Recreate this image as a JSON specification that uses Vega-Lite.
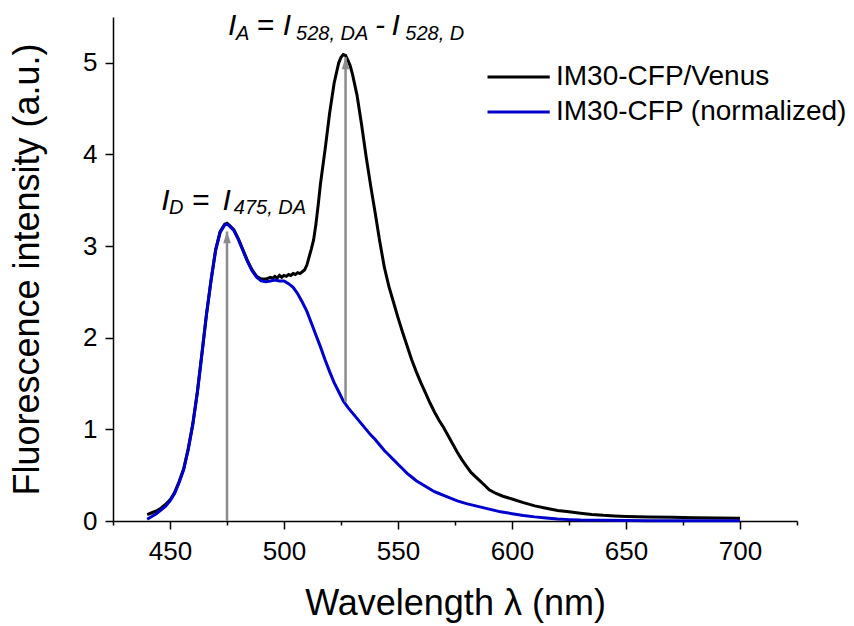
{
  "$schema": "https://vega.github.io/schema/vega-lite/v6.json",
  "autosize": "none",
  "width": 684,
  "height": 504,
  "padding": {"left": 113, "top": 17, "right": 57, "bottom": 105},
  "background": "white",
  "config": {
    "view": {"stroke": null},
    "font": "Liberation Sans",
    "axis": {
      "grid": false,
      "domainColor": "black",
      "domainWidth": 1.5,
      "tickColor": "black",
      "tickWidth": 1.5,
      "labelColor": "black",
      "labelFont": "Liberation Sans",
      "labelFontSize": 26,
      "labelOverlap": false,
      "labelFlush": false,
      "titleFont": "Liberation Sans",
      "titleFontSize": 36,
      "titleFontWeight": "normal",
      "titleColor": "black",
      "titleLimit": 0
    }
  },
  "datasets": {
    "spectra": [
      {"wavelength": 440, "intensity": 0.07, "series": "IM30-CFP/Venus"},
      {"wavelength": 442, "intensity": 0.09, "series": "IM30-CFP/Venus"},
      {"wavelength": 444, "intensity": 0.11, "series": "IM30-CFP/Venus"},
      {"wavelength": 446, "intensity": 0.14, "series": "IM30-CFP/Venus"},
      {"wavelength": 448, "intensity": 0.18, "series": "IM30-CFP/Venus"},
      {"wavelength": 450, "intensity": 0.23, "series": "IM30-CFP/Venus"},
      {"wavelength": 452, "intensity": 0.31, "series": "IM30-CFP/Venus"},
      {"wavelength": 454, "intensity": 0.43, "series": "IM30-CFP/Venus"},
      {"wavelength": 456, "intensity": 0.57, "series": "IM30-CFP/Venus"},
      {"wavelength": 458, "intensity": 0.79, "series": "IM30-CFP/Venus"},
      {"wavelength": 460, "intensity": 1.06, "series": "IM30-CFP/Venus"},
      {"wavelength": 462, "intensity": 1.41, "series": "IM30-CFP/Venus"},
      {"wavelength": 464, "intensity": 1.83, "series": "IM30-CFP/Venus"},
      {"wavelength": 466, "intensity": 2.26, "series": "IM30-CFP/Venus"},
      {"wavelength": 468, "intensity": 2.63, "series": "IM30-CFP/Venus"},
      {"wavelength": 470, "intensity": 2.96, "series": "IM30-CFP/Venus"},
      {"wavelength": 472, "intensity": 3.16, "series": "IM30-CFP/Venus"},
      {"wavelength": 474, "intensity": 3.24, "series": "IM30-CFP/Venus"},
      {"wavelength": 475, "intensity": 3.25, "series": "IM30-CFP/Venus"},
      {"wavelength": 476, "intensity": 3.23, "series": "IM30-CFP/Venus"},
      {"wavelength": 478, "intensity": 3.18, "series": "IM30-CFP/Venus"},
      {"wavelength": 480, "intensity": 3.08, "series": "IM30-CFP/Venus"},
      {"wavelength": 482, "intensity": 2.96, "series": "IM30-CFP/Venus"},
      {"wavelength": 484, "intensity": 2.84, "series": "IM30-CFP/Venus"},
      {"wavelength": 486, "intensity": 2.74, "series": "IM30-CFP/Venus"},
      {"wavelength": 488, "intensity": 2.67, "series": "IM30-CFP/Venus"},
      {"wavelength": 490, "intensity": 2.64, "series": "IM30-CFP/Venus"},
      {"wavelength": 492, "intensity": 2.64, "series": "IM30-CFP/Venus"},
      {"wavelength": 494, "intensity": 2.66, "series": "IM30-CFP/Venus"},
      {"wavelength": 495, "intensity": 2.65, "series": "IM30-CFP/Venus"},
      {"wavelength": 496, "intensity": 2.67, "series": "IM30-CFP/Venus"},
      {"wavelength": 497, "intensity": 2.65, "series": "IM30-CFP/Venus"},
      {"wavelength": 498, "intensity": 2.68, "series": "IM30-CFP/Venus"},
      {"wavelength": 499, "intensity": 2.66, "series": "IM30-CFP/Venus"},
      {"wavelength": 500, "intensity": 2.68, "series": "IM30-CFP/Venus"},
      {"wavelength": 501, "intensity": 2.67, "series": "IM30-CFP/Venus"},
      {"wavelength": 502, "intensity": 2.69, "series": "IM30-CFP/Venus"},
      {"wavelength": 503, "intensity": 2.68, "series": "IM30-CFP/Venus"},
      {"wavelength": 504, "intensity": 2.7, "series": "IM30-CFP/Venus"},
      {"wavelength": 505, "intensity": 2.69, "series": "IM30-CFP/Venus"},
      {"wavelength": 506, "intensity": 2.71, "series": "IM30-CFP/Venus"},
      {"wavelength": 507, "intensity": 2.7, "series": "IM30-CFP/Venus"},
      {"wavelength": 508, "intensity": 2.72, "series": "IM30-CFP/Venus"},
      {"wavelength": 509, "intensity": 2.74, "series": "IM30-CFP/Venus"},
      {"wavelength": 510, "intensity": 2.79, "series": "IM30-CFP/Venus"},
      {"wavelength": 511, "intensity": 2.88, "series": "IM30-CFP/Venus"},
      {"wavelength": 512, "intensity": 2.97, "series": "IM30-CFP/Venus"},
      {"wavelength": 513, "intensity": 3.07, "series": "IM30-CFP/Venus"},
      {"wavelength": 514, "intensity": 3.24, "series": "IM30-CFP/Venus"},
      {"wavelength": 515, "intensity": 3.45, "series": "IM30-CFP/Venus"},
      {"wavelength": 516, "intensity": 3.68, "series": "IM30-CFP/Venus"},
      {"wavelength": 518, "intensity": 4.05, "series": "IM30-CFP/Venus"},
      {"wavelength": 520, "intensity": 4.45, "series": "IM30-CFP/Venus"},
      {"wavelength": 522, "intensity": 4.78, "series": "IM30-CFP/Venus"},
      {"wavelength": 524, "intensity": 5.0, "series": "IM30-CFP/Venus"},
      {"wavelength": 525, "intensity": 5.06, "series": "IM30-CFP/Venus"},
      {"wavelength": 526, "intensity": 5.09, "series": "IM30-CFP/Venus"},
      {"wavelength": 527, "intensity": 5.08, "series": "IM30-CFP/Venus"},
      {"wavelength": 528, "intensity": 5.03, "series": "IM30-CFP/Venus"},
      {"wavelength": 529, "intensity": 4.97, "series": "IM30-CFP/Venus"},
      {"wavelength": 530, "intensity": 4.88, "series": "IM30-CFP/Venus"},
      {"wavelength": 532, "intensity": 4.65, "series": "IM30-CFP/Venus"},
      {"wavelength": 534, "intensity": 4.33, "series": "IM30-CFP/Venus"},
      {"wavelength": 536, "intensity": 3.98, "series": "IM30-CFP/Venus"},
      {"wavelength": 538, "intensity": 3.66, "series": "IM30-CFP/Venus"},
      {"wavelength": 540, "intensity": 3.36, "series": "IM30-CFP/Venus"},
      {"wavelength": 542, "intensity": 3.05, "series": "IM30-CFP/Venus"},
      {"wavelength": 544, "intensity": 2.77, "series": "IM30-CFP/Venus"},
      {"wavelength": 546, "intensity": 2.56, "series": "IM30-CFP/Venus"},
      {"wavelength": 548, "intensity": 2.39, "series": "IM30-CFP/Venus"},
      {"wavelength": 550, "intensity": 2.22, "series": "IM30-CFP/Venus"},
      {"wavelength": 552, "intensity": 2.06, "series": "IM30-CFP/Venus"},
      {"wavelength": 554, "intensity": 1.91, "series": "IM30-CFP/Venus"},
      {"wavelength": 556, "intensity": 1.76, "series": "IM30-CFP/Venus"},
      {"wavelength": 558, "intensity": 1.63, "series": "IM30-CFP/Venus"},
      {"wavelength": 560, "intensity": 1.51, "series": "IM30-CFP/Venus"},
      {"wavelength": 562, "intensity": 1.4, "series": "IM30-CFP/Venus"},
      {"wavelength": 564, "intensity": 1.29, "series": "IM30-CFP/Venus"},
      {"wavelength": 566, "intensity": 1.19, "series": "IM30-CFP/Venus"},
      {"wavelength": 568, "intensity": 1.1, "series": "IM30-CFP/Venus"},
      {"wavelength": 570, "intensity": 1.02, "series": "IM30-CFP/Venus"},
      {"wavelength": 572, "intensity": 0.93, "series": "IM30-CFP/Venus"},
      {"wavelength": 574, "intensity": 0.84, "series": "IM30-CFP/Venus"},
      {"wavelength": 576, "intensity": 0.75, "series": "IM30-CFP/Venus"},
      {"wavelength": 578, "intensity": 0.67, "series": "IM30-CFP/Venus"},
      {"wavelength": 580, "intensity": 0.6, "series": "IM30-CFP/Venus"},
      {"wavelength": 582, "intensity": 0.53, "series": "IM30-CFP/Venus"},
      {"wavelength": 585, "intensity": 0.46, "series": "IM30-CFP/Venus"},
      {"wavelength": 588, "intensity": 0.39, "series": "IM30-CFP/Venus"},
      {"wavelength": 590, "intensity": 0.34, "series": "IM30-CFP/Venus"},
      {"wavelength": 593, "intensity": 0.3, "series": "IM30-CFP/Venus"},
      {"wavelength": 596, "intensity": 0.27, "series": "IM30-CFP/Venus"},
      {"wavelength": 600, "intensity": 0.24, "series": "IM30-CFP/Venus"},
      {"wavelength": 605, "intensity": 0.2, "series": "IM30-CFP/Venus"},
      {"wavelength": 610, "intensity": 0.165, "series": "IM30-CFP/Venus"},
      {"wavelength": 615, "intensity": 0.14, "series": "IM30-CFP/Venus"},
      {"wavelength": 620, "intensity": 0.115, "series": "IM30-CFP/Venus"},
      {"wavelength": 625, "intensity": 0.1, "series": "IM30-CFP/Venus"},
      {"wavelength": 630, "intensity": 0.085, "series": "IM30-CFP/Venus"},
      {"wavelength": 635, "intensity": 0.072, "series": "IM30-CFP/Venus"},
      {"wavelength": 640, "intensity": 0.062, "series": "IM30-CFP/Venus"},
      {"wavelength": 645, "intensity": 0.055, "series": "IM30-CFP/Venus"},
      {"wavelength": 650, "intensity": 0.05, "series": "IM30-CFP/Venus"},
      {"wavelength": 660, "intensity": 0.045, "series": "IM30-CFP/Venus"},
      {"wavelength": 670, "intensity": 0.04, "series": "IM30-CFP/Venus"},
      {"wavelength": 680, "intensity": 0.036, "series": "IM30-CFP/Venus"},
      {"wavelength": 690, "intensity": 0.033, "series": "IM30-CFP/Venus"},
      {"wavelength": 700, "intensity": 0.03, "series": "IM30-CFP/Venus"},
      {"wavelength": 440, "intensity": 0.02, "series": "IM30-CFP (normalized)"},
      {"wavelength": 442, "intensity": 0.05, "series": "IM30-CFP (normalized)"},
      {"wavelength": 444, "intensity": 0.08, "series": "IM30-CFP (normalized)"},
      {"wavelength": 446, "intensity": 0.12, "series": "IM30-CFP (normalized)"},
      {"wavelength": 448, "intensity": 0.16, "series": "IM30-CFP (normalized)"},
      {"wavelength": 450, "intensity": 0.22, "series": "IM30-CFP (normalized)"},
      {"wavelength": 452, "intensity": 0.3, "series": "IM30-CFP (normalized)"},
      {"wavelength": 454, "intensity": 0.42, "series": "IM30-CFP (normalized)"},
      {"wavelength": 456, "intensity": 0.56, "series": "IM30-CFP (normalized)"},
      {"wavelength": 458, "intensity": 0.78, "series": "IM30-CFP (normalized)"},
      {"wavelength": 460, "intensity": 1.05, "series": "IM30-CFP (normalized)"},
      {"wavelength": 462, "intensity": 1.4, "series": "IM30-CFP (normalized)"},
      {"wavelength": 464, "intensity": 1.82, "series": "IM30-CFP (normalized)"},
      {"wavelength": 466, "intensity": 2.25, "series": "IM30-CFP (normalized)"},
      {"wavelength": 468, "intensity": 2.62, "series": "IM30-CFP (normalized)"},
      {"wavelength": 470, "intensity": 2.95, "series": "IM30-CFP (normalized)"},
      {"wavelength": 472, "intensity": 3.15, "series": "IM30-CFP (normalized)"},
      {"wavelength": 474, "intensity": 3.23, "series": "IM30-CFP (normalized)"},
      {"wavelength": 475, "intensity": 3.24, "series": "IM30-CFP (normalized)"},
      {"wavelength": 476, "intensity": 3.22, "series": "IM30-CFP (normalized)"},
      {"wavelength": 478, "intensity": 3.17, "series": "IM30-CFP (normalized)"},
      {"wavelength": 480, "intensity": 3.07, "series": "IM30-CFP (normalized)"},
      {"wavelength": 482, "intensity": 2.95, "series": "IM30-CFP (normalized)"},
      {"wavelength": 484, "intensity": 2.83, "series": "IM30-CFP (normalized)"},
      {"wavelength": 486, "intensity": 2.73, "series": "IM30-CFP (normalized)"},
      {"wavelength": 488, "intensity": 2.66, "series": "IM30-CFP (normalized)"},
      {"wavelength": 490, "intensity": 2.62, "series": "IM30-CFP (normalized)"},
      {"wavelength": 492, "intensity": 2.61, "series": "IM30-CFP (normalized)"},
      {"wavelength": 494, "intensity": 2.62, "series": "IM30-CFP (normalized)"},
      {"wavelength": 496, "intensity": 2.63, "series": "IM30-CFP (normalized)"},
      {"wavelength": 498, "intensity": 2.62, "series": "IM30-CFP (normalized)"},
      {"wavelength": 500, "intensity": 2.62, "series": "IM30-CFP (normalized)"},
      {"wavelength": 502, "intensity": 2.59, "series": "IM30-CFP (normalized)"},
      {"wavelength": 504, "intensity": 2.55, "series": "IM30-CFP (normalized)"},
      {"wavelength": 506, "intensity": 2.48, "series": "IM30-CFP (normalized)"},
      {"wavelength": 508, "intensity": 2.39, "series": "IM30-CFP (normalized)"},
      {"wavelength": 510, "intensity": 2.29, "series": "IM30-CFP (normalized)"},
      {"wavelength": 512, "intensity": 2.16, "series": "IM30-CFP (normalized)"},
      {"wavelength": 514, "intensity": 2.03, "series": "IM30-CFP (normalized)"},
      {"wavelength": 516, "intensity": 1.9, "series": "IM30-CFP (normalized)"},
      {"wavelength": 518, "intensity": 1.76, "series": "IM30-CFP (normalized)"},
      {"wavelength": 520, "intensity": 1.63, "series": "IM30-CFP (normalized)"},
      {"wavelength": 522, "intensity": 1.51, "series": "IM30-CFP (normalized)"},
      {"wavelength": 524, "intensity": 1.41, "series": "IM30-CFP (normalized)"},
      {"wavelength": 526, "intensity": 1.31, "series": "IM30-CFP (normalized)"},
      {"wavelength": 528, "intensity": 1.24, "series": "IM30-CFP (normalized)"},
      {"wavelength": 530, "intensity": 1.18, "series": "IM30-CFP (normalized)"},
      {"wavelength": 532, "intensity": 1.12, "series": "IM30-CFP (normalized)"},
      {"wavelength": 534, "intensity": 1.06, "series": "IM30-CFP (normalized)"},
      {"wavelength": 536, "intensity": 1.0, "series": "IM30-CFP (normalized)"},
      {"wavelength": 538, "intensity": 0.94, "series": "IM30-CFP (normalized)"},
      {"wavelength": 540, "intensity": 0.89, "series": "IM30-CFP (normalized)"},
      {"wavelength": 542, "intensity": 0.83, "series": "IM30-CFP (normalized)"},
      {"wavelength": 544, "intensity": 0.77, "series": "IM30-CFP (normalized)"},
      {"wavelength": 546, "intensity": 0.72, "series": "IM30-CFP (normalized)"},
      {"wavelength": 548, "intensity": 0.67, "series": "IM30-CFP (normalized)"},
      {"wavelength": 550, "intensity": 0.62, "series": "IM30-CFP (normalized)"},
      {"wavelength": 552, "intensity": 0.57, "series": "IM30-CFP (normalized)"},
      {"wavelength": 554, "intensity": 0.52, "series": "IM30-CFP (normalized)"},
      {"wavelength": 556, "intensity": 0.48, "series": "IM30-CFP (normalized)"},
      {"wavelength": 558, "intensity": 0.44, "series": "IM30-CFP (normalized)"},
      {"wavelength": 560, "intensity": 0.41, "series": "IM30-CFP (normalized)"},
      {"wavelength": 562, "intensity": 0.38, "series": "IM30-CFP (normalized)"},
      {"wavelength": 564, "intensity": 0.35, "series": "IM30-CFP (normalized)"},
      {"wavelength": 566, "intensity": 0.32, "series": "IM30-CFP (normalized)"},
      {"wavelength": 568, "intensity": 0.3, "series": "IM30-CFP (normalized)"},
      {"wavelength": 570, "intensity": 0.28, "series": "IM30-CFP (normalized)"},
      {"wavelength": 573, "intensity": 0.25, "series": "IM30-CFP (normalized)"},
      {"wavelength": 576, "intensity": 0.22, "series": "IM30-CFP (normalized)"},
      {"wavelength": 580, "intensity": 0.19, "series": "IM30-CFP (normalized)"},
      {"wavelength": 585, "intensity": 0.16, "series": "IM30-CFP (normalized)"},
      {"wavelength": 590, "intensity": 0.13, "series": "IM30-CFP (normalized)"},
      {"wavelength": 595, "intensity": 0.1, "series": "IM30-CFP (normalized)"},
      {"wavelength": 600, "intensity": 0.08, "series": "IM30-CFP (normalized)"},
      {"wavelength": 605, "intensity": 0.06, "series": "IM30-CFP (normalized)"},
      {"wavelength": 610, "intensity": 0.045, "series": "IM30-CFP (normalized)"},
      {"wavelength": 615, "intensity": 0.033, "series": "IM30-CFP (normalized)"},
      {"wavelength": 620, "intensity": 0.022, "series": "IM30-CFP (normalized)"},
      {"wavelength": 625, "intensity": 0.015, "series": "IM30-CFP (normalized)"},
      {"wavelength": 630, "intensity": 0.01, "series": "IM30-CFP (normalized)"},
      {"wavelength": 640, "intensity": 0.007, "series": "IM30-CFP (normalized)"},
      {"wavelength": 650, "intensity": 0.005, "series": "IM30-CFP (normalized)"},
      {"wavelength": 660, "intensity": 0.004, "series": "IM30-CFP (normalized)"},
      {"wavelength": 680, "intensity": 0.003, "series": "IM30-CFP (normalized)"},
      {"wavelength": 700, "intensity": 0.003, "series": "IM30-CFP (normalized)"}
    ],
    "arrows": [
      {"wavelength": 475, "base": 0, "tip": 3.16},
      {"wavelength": 527, "base": 1.3, "tip": 5.06}
    ],
    "formula": [
      {"wavelength": 475.4, "intensity": 5.3, "part": "I"},
      {"wavelength": 487.9, "intensity": 5.3, "part": "="},
      {"wavelength": 499.5, "intensity": 5.3, "part": "I"},
      {"wavelength": 539.9, "intensity": 5.3, "part": "-"},
      {"wavelength": 547.2, "intensity": 5.3, "part": "I"},
      {"wavelength": 446.2, "intensity": 3.39, "part": "I"},
      {"wavelength": 459.5, "intensity": 3.39, "part": "="},
      {"wavelength": 473.0, "intensity": 3.39, "part": "I"}
    ],
    "subscripts": [
      {"wavelength": 478.9, "intensity": 5.25, "part": "A"},
      {"wavelength": 505.3, "intensity": 5.25, "part": "528, DA"},
      {"wavelength": 553.2, "intensity": 5.25, "part": "528, D"},
      {"wavelength": 449.6, "intensity": 3.345, "part": "D"},
      {"wavelength": 478.0, "intensity": 3.345, "part": "475, DA"}
    ]
  },
  "layer": [
    {
      "data": {"name": "spectra"},
      "mark": {"type": "line", "strokeWidth": 3, "interpolate": "linear"},
      "encoding": {
        "x": {
          "field": "wavelength",
          "type": "quantitative",
          "scale": {"domain": [425, 725], "nice": false, "zero": false},
          "axis": {
            "title": "Wavelength λ (nm)",
            "values": [425, 450, 475, 500, 525, 550, 575, 600, 625, 650, 675, 700, 725],
            "labelExpr": "datum.value % 50 === 0 ? datum.label : ''",
            "tickSize": {"condition": {"test": "datum.value % 50 === 0", "value": 8}, "value": 4},
            "labelPadding": 9,
            "titlePadding": 22
          }
        },
        "y": {
          "field": "intensity",
          "type": "quantitative",
          "scale": {"domain": [0, 5.5], "nice": false},
          "axis": {
            "title": "Fluorescence intensity (a.u.)",
            "values": [0, 0.5, 1, 1.5, 2, 2.5, 3, 3.5, 4, 4.5, 5, 5.5],
            "format": "d",
            "labelExpr": "datum.value % 1 === 0 ? datum.label : ''",
            "tickSize": {"condition": {"test": "datum.value % 1 === 0", "value": 8}, "value": 4},
            "labelPadding": 8,
            "titlePadding": 36
          }
        },
        "color": {
          "field": "series",
          "type": "nominal",
          "scale": {"domain": ["IM30-CFP/Venus", "IM30-CFP (normalized)"], "range": ["#000000", "#0000cc"]},
          "legend": {
            "orient": "none",
            "legendX": 368,
            "legendY": 46,
            "title": null,
            "padding": 0,
            "symbolType": "M-1,0H7.3",
            "symbolSize": 225,
            "symbolStrokeWidth": 3,
            "labelFontSize": 28,
            "labelColor": "black",
            "labelFont": "Liberation Sans",
            "labelOffset": 47,
            "labelLimit": 0,
            "rowPadding": 7
          }
        }
      }
    },
    {
      "data": {"name": "arrows"},
      "mark": {"type": "rule", "color": "#8c8c8c", "strokeWidth": 2.5},
      "encoding": {
        "x": {"field": "wavelength", "type": "quantitative"},
        "y": {"field": "base", "type": "quantitative"},
        "y2": {"field": "tip"}
      }
    },
    {
      "data": {"name": "arrows"},
      "mark": {"type": "point", "shape": "M0,0L-0.55,1.7L0.55,1.7Z", "filled": true, "size": 196, "color": "#8c8c8c", "opacity": 1},
      "encoding": {
        "x": {"field": "wavelength", "type": "quantitative"},
        "y": {"field": "tip", "type": "quantitative"}
      }
    },
    {
      "data": {"name": "formula"},
      "mark": {"type": "text", "align": "left", "baseline": "alphabetic", "font": "Liberation Sans", "fontStyle": "italic", "fontSize": 30, "color": "black"},
      "encoding": {
        "x": {"field": "wavelength", "type": "quantitative"},
        "y": {"field": "intensity", "type": "quantitative"},
        "text": {"field": "part"}
      }
    },
    {
      "data": {"name": "subscripts"},
      "mark": {"type": "text", "align": "left", "baseline": "alphabetic", "font": "Liberation Sans", "fontStyle": "italic", "fontSize": 20, "color": "black"},
      "encoding": {
        "x": {"field": "wavelength", "type": "quantitative"},
        "y": {"field": "intensity", "type": "quantitative"},
        "text": {"field": "part"}
      }
    }
  ]
}
